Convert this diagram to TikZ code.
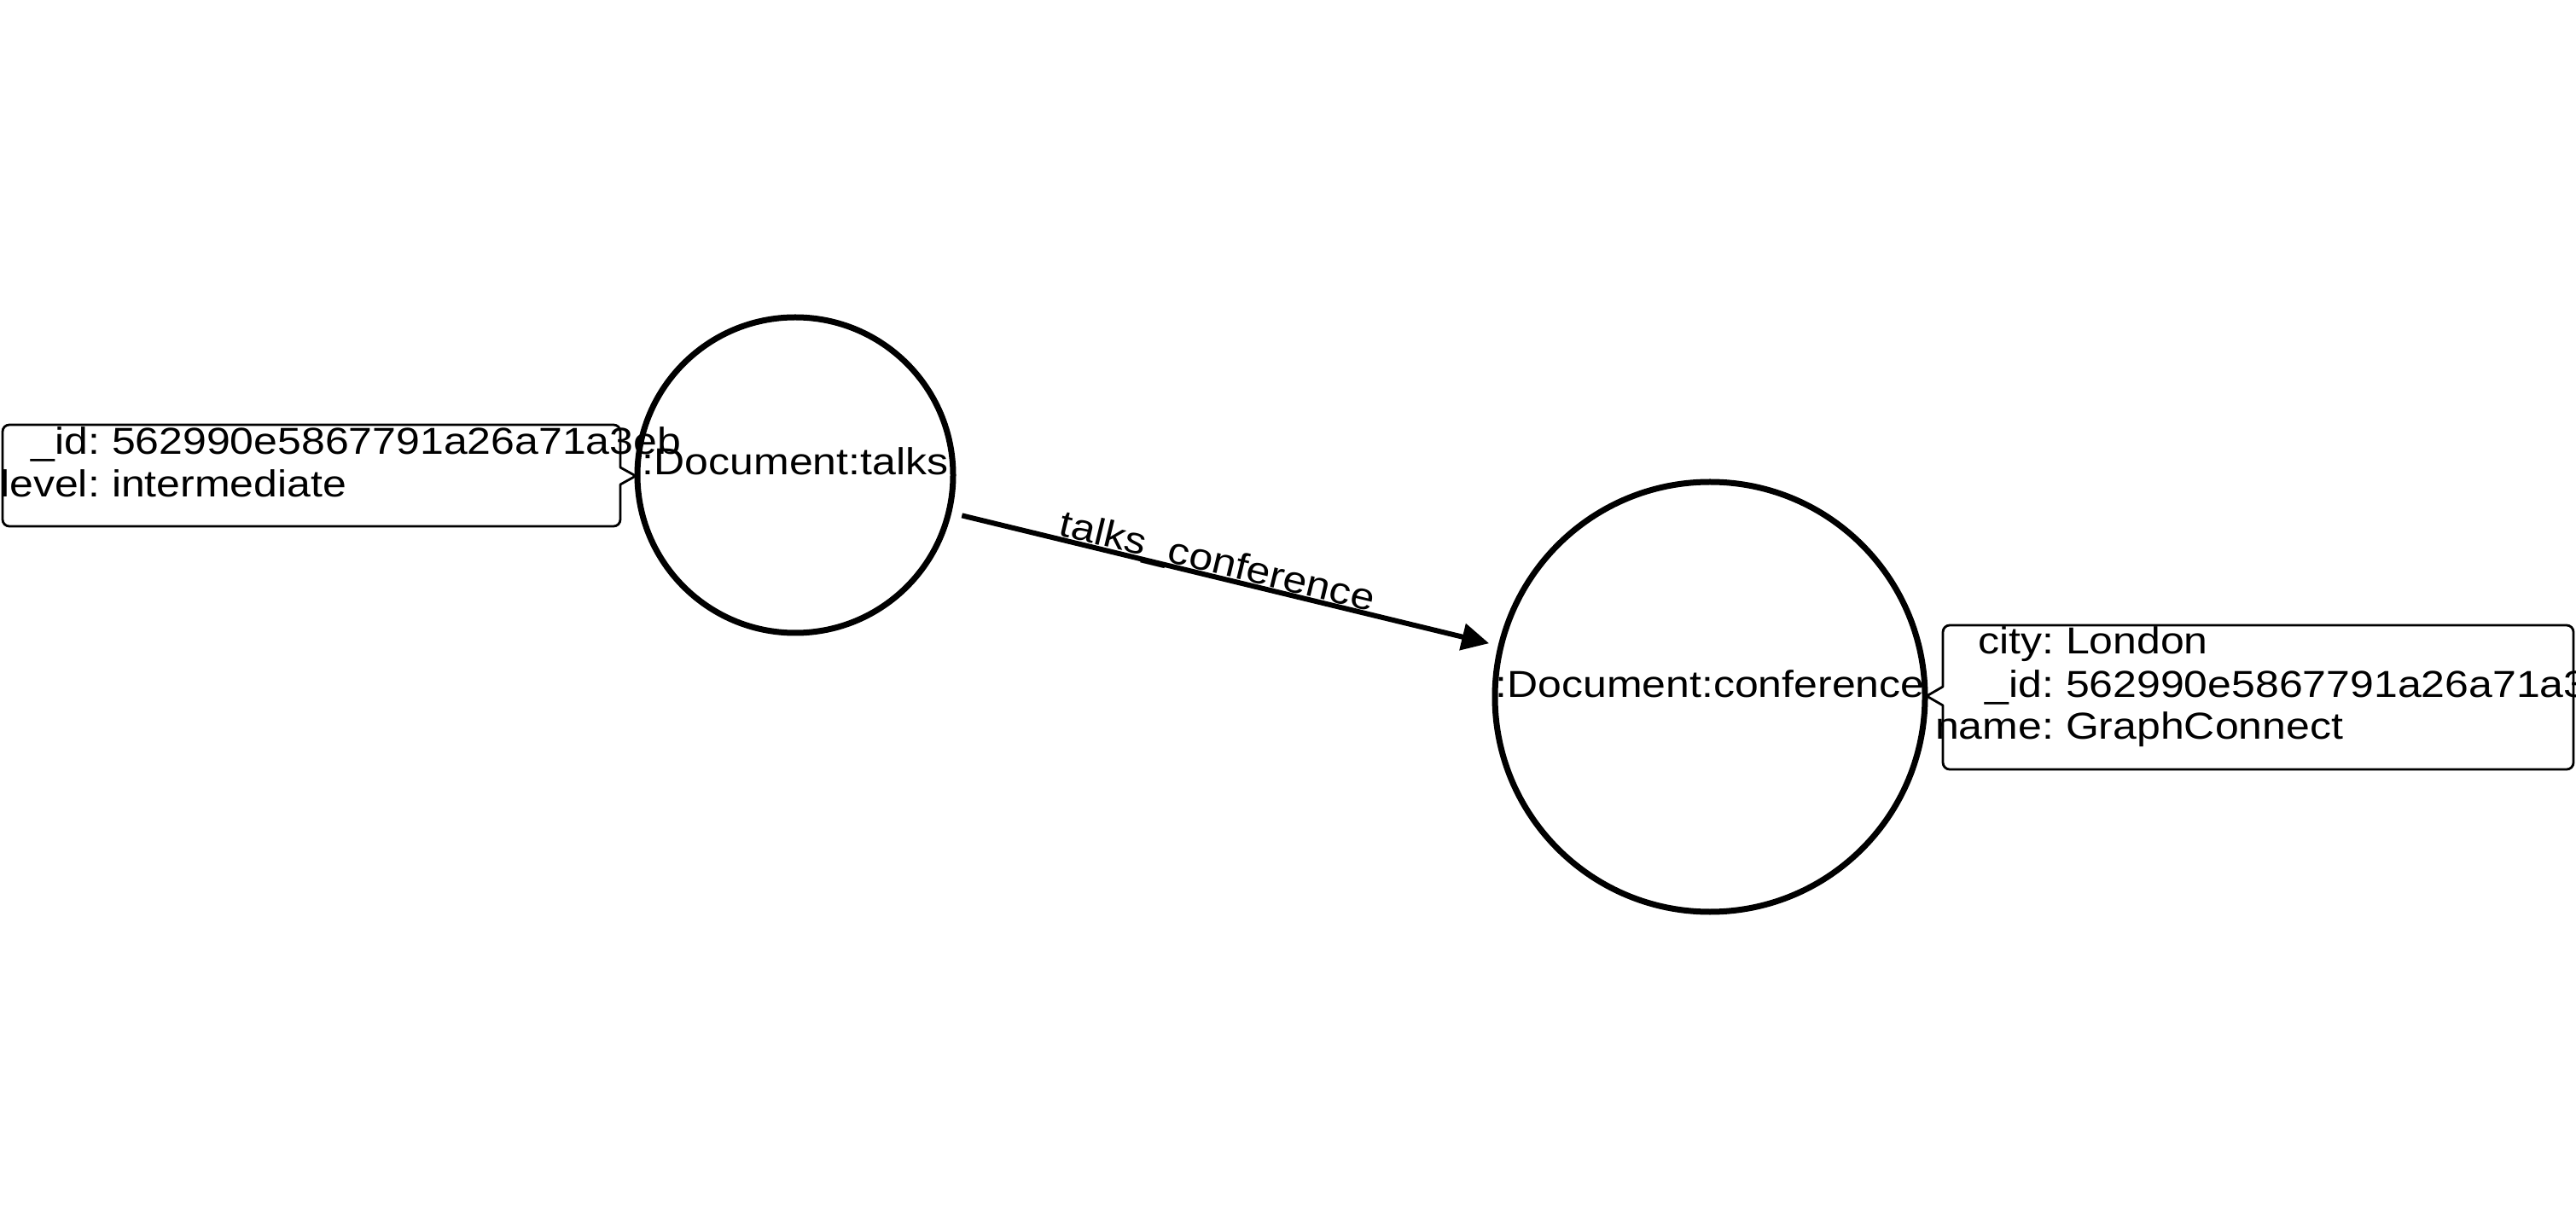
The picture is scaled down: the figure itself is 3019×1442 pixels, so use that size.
\documentclass[tikz,border=0pt]{standalone}
\usepackage{fontspec}
\setmainfont{Liberation Sans}[FakeStretch=1.136]
\usetikzlibrary{arrows.meta}
\begin{document}
\begin{tikzpicture}[x=0.25pt,y=-0.25pt,
  every node/.style={inner sep=0pt, outer sep=0pt, font=\fontsize{11pt}{13pt}\selectfont},
  docnode/.style={circle, draw, line width=1.75pt},
  propbox/.style={draw, line width=0.7pt, line join=round},
  rel/.style={line width=1.5pt, -{Triangle[length=8pt,width=7.75pt]}, shorten <=4pt, shorten >=3.6pt}]
\useasboundingbox (0,0) rectangle (3019,1442);

% nodes
\node[docnode, minimum size=92.5pt] (talks) at (932,557) {};
\node[docnode, minimum size=126pt] (conf) at (2004,817) {};
\node[anchor=base] (talkslbl) at (talks.center) {:Document:talks};
\node[anchor=base] (conflbl) at (conf.center) {:Document:conference};

% relationship
\draw[rel] (talks) -- node[pos=0.48, sloped, anchor=base, yshift=1pt] (rellbl) {talks\_conference} (conf);

% property box of talks
\draw[propbox] (3,558) [rounded corners=2pt] -- (3,498) -- (727,498) [sharp corners] -- (727,548) -- (745,558) -- (727,568) [rounded corners=2pt] -- (727,617) -- (3,617) -- cycle;
\node[anchor=base east] (tk1) at (117,533) {\_id:};
\node[anchor=base west] (tv1) at (131,533) {562990e5867791a26a71a3eb};
\node[anchor=base east] (tk2) at (117,583) {level:};
\node[anchor=base west] (tv2) at (131,583) {intermediate};

% property box of conference
\draw[propbox] (2277,805) [rounded corners=2pt] -- (2277,733) -- (3016,733) -- (3016,902) -- (2277,902) [sharp corners] -- (2277,827) -- (2258,816) -- cycle;
\node[anchor=base east] (ck1) at (2407,767) {city:};
\node[anchor=base west] (cv1) at (2421,767) {London};
\node[anchor=base east] (ck2) at (2407,817) {\_id:};
\node[anchor=base west] (cv2) at (2421,817) {562990e5867791a26a71a3};
\node[anchor=base east] (ck3) at (2407,867) {name:};
\node[anchor=base west] (cv3) at (2421,867) {GraphConnect};
\end{tikzpicture}
\end{document}
